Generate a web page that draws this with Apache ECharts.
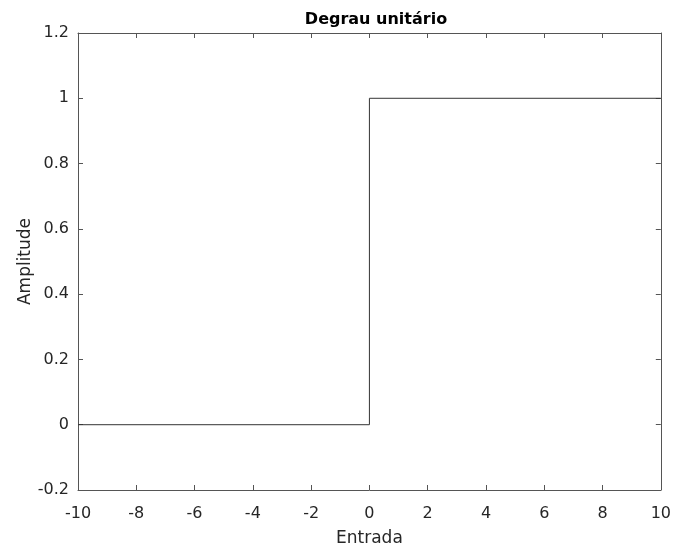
<!DOCTYPE html>
<html>
<head>
<meta charset="utf-8">
<script src="https://cdn.jsdelivr.net/npm/echarts@6/dist/echarts.min.js"></script>
<style>
  html, body { margin: 0; padding: 0; background: #fff; }
  #chart { width: 674px; height: 552px; }
</style>
</head>
<body>
<div id="chart"></div>
<script>
// degrau unitário: y = 0 para x < 0, y = 1 para x >= 0
const xs = [-10, 0, 0, 10];
const ys = [0, 0, 1, 1];

const axisColor = '#555';
const font = '"DejaVu Sans", sans-serif';

const chart = echarts.init(document.getElementById('chart'));

const baseX = {
  type: 'value',
  min: -10,
  max: 10,
  interval: 2,
  splitLine: { show: false },
  axisLine: { onZero: false, lineStyle: { color: axisColor, width: 1 } },
  axisTick: { inside: true, length: 5, lineStyle: { color: axisColor } },
};
const baseY = {
  type: 'value',
  min: -0.2,
  max: 1.2,
  interval: 0.2,
  splitLine: { show: false },
  axisLine: { onZero: false, lineStyle: { color: axisColor, width: 1 } },
  axisTick: { inside: true, length: 5, lineStyle: { color: axisColor } },
};

const option = {
  backgroundColor: '#fff',
  animation: false,
  title: {
    text: 'Degrau unitário',
    left: 371,
    top: 7,
    textAlign: 'center',
    textStyle: { fontFamily: font, fontSize: 16, fontWeight: 'bold', color: '#000' },
  },
  grid: { left: 78, right: 10, top: 33, bottom: 58, containLabel: false },
  xAxis: [
    Object.assign({}, baseX, {
      position: 'bottom',
      name: 'Entrada',
      nameLocation: 'middle',
      nameGap: 40,
      nameMoveOverlap: false,
      nameTextStyle: { fontFamily: font, fontSize: 17, color: '#262626' },
      axisLabel: { fontFamily: font, fontSize: 16, color: '#262626', margin: 16 },
    }),
    Object.assign({}, baseX, {
      position: 'top',
      axisLabel: { show: false },
    }),
  ],
  yAxis: [
    Object.assign({}, baseY, {
      position: 'left',
      name: 'Amplitude',
      nameLocation: 'middle',
      nameGap: 44,
      nameMoveOverlap: false,
      nameTextStyle: { fontFamily: font, fontSize: 17, color: '#262626' },
      axisLabel: {
        fontFamily: font, fontSize: 16, color: '#262626', margin: 9,
        formatter: (v) => String(Math.round(v * 10) / 10),
      },
    }),
    Object.assign({}, baseY, {
      position: 'right',
      axisLabel: { show: false },
    }),
  ],
  series: [
    {
      type: 'line',
      data: xs.map((x, i) => [x, ys[i]]),
      showSymbol: false,
      lineStyle: { color: '#333', width: 1 },
      silent: true,
    },
  ],
};

chart.setOption(option);
</script>
</body>
</html>
